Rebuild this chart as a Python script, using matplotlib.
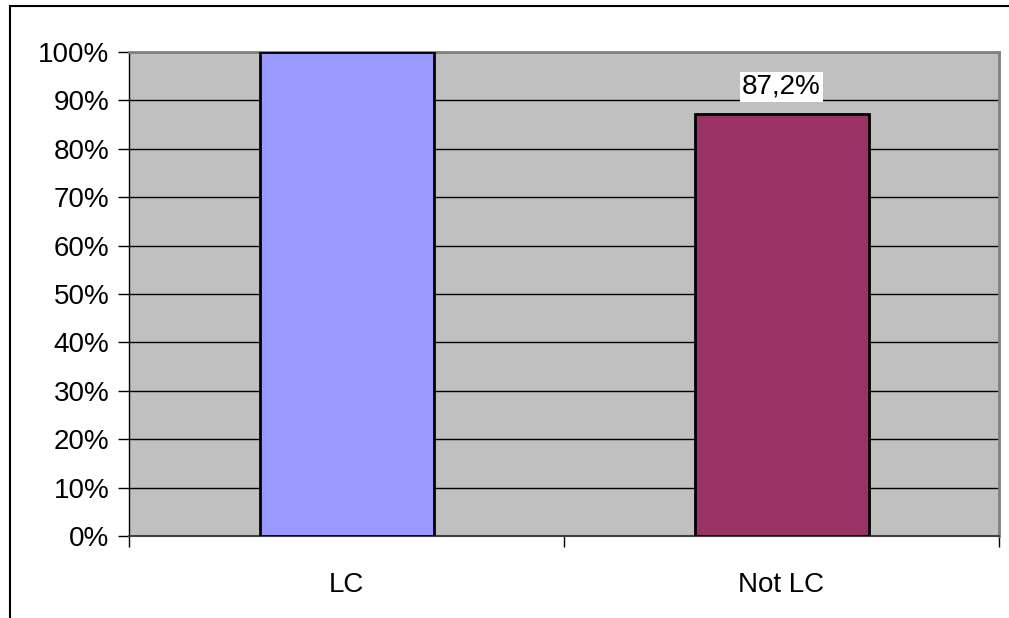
import matplotlib
matplotlib.use("Agg")
import matplotlib.pyplot as plt
from matplotlib.patches import Rectangle
from matplotlib.ticker import FixedLocator, NullFormatter, FixedFormatter

categories = ["LC", "Not LC"]
values = [100.0, 87.2]
bar_colors = ["#9999FF", "#993366"]
y_ticks = [0, 10, 20, 30, 40, 50, 60, 70, 80, 90, 100]
y_tick_labels = [f"{v}%" for v in y_ticks]
shown_labels = {1: "87,2%"}

plt.rcParams["font.family"] = ["Liberation Sans", "DejaVu Sans"]
FS = 20

W, H = 1009, 618
fig = plt.figure(figsize=(W / 100, H / 100), dpi=100)
fig.patch.set_facecolor("white")

# outer chart frame, running off the right and bottom edges
fig.patches.append(Rectangle((9.5 / W, -0.1), 1.2, 1 - 6.5 / H + 0.1,
                             transform=fig.transFigure, fill=False,
                             edgecolor="#000000", linewidth=1.5, zorder=0))

left, right, top, bottom = 129, 999, 52, 536
ax = fig.add_axes([left / W, 1 - bottom / H, (right - left) / W, (bottom - top) / H])
ax.set_facecolor("#C0C0C0")

x = list(range(len(categories)))
ax.bar(x, values, width=0.4, color=bar_colors, edgecolor="black",
       linewidth=2, zorder=3)

ax.set_xlim(-0.5, len(categories) - 0.5)
ax.set_ylim(0, 100)

ax.set_yticks(y_ticks)
ax.set_yticklabels(y_tick_labels, fontsize=FS)
ax.yaxis.grid(True, color="black", linewidth=1)
ax.set_axisbelow(True)
ax.tick_params(axis="y", direction="out", length=8, width=1, pad=6, color="black")

# category boundaries get tick marks, centers get the labels
ax.xaxis.set_major_locator(FixedLocator([-0.5, 0.5, 1.5]))
ax.xaxis.set_major_formatter(NullFormatter())
ax.xaxis.set_minor_locator(FixedLocator(x))
ax.xaxis.set_minor_formatter(FixedFormatter(categories))
ax.tick_params(axis="x", which="major", direction="out", length=8, width=1, color="black")
ax.tick_params(axis="x", which="minor", length=0, pad=26, labelsize=FS)

for s in ["top", "right"]:
    ax.spines[s].set_color("#808080")
    ax.spines[s].set_linewidth(2)
ax.spines["left"].set_color("black")
ax.spines["left"].set_linewidth(1)
ax.spines["bottom"].set_color("#404040")
ax.spines["bottom"].set_linewidth(1.5)

for i, txt in shown_labels.items():
    ax.annotate(txt, xy=(x[i], values[i]), xytext=(0, 14), textcoords="offset pixels",
                ha="center", va="bottom", fontsize=FS, zorder=5,
                bbox=dict(boxstyle="square,pad=0.08", facecolor="white", edgecolor="none"))

fig.savefig("out.png", dpi=100)
